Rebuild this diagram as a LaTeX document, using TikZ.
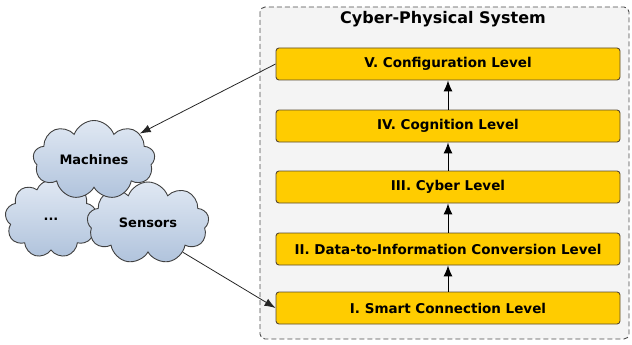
\documentclass[tikz,border=0pt]{standalone}
\usepackage{fontspec}
\setmainfont{DejaVu Sans}
\usetikzlibrary{shapes.symbols,arrows.meta}
\definecolor{lvlfill}{HTML}{FFCC00}
\definecolor{lvldraw}{HTML}{5A4A30}
\definecolor{sysfill}{HTML}{F4F4F4}
\definecolor{cloudtop}{HTML}{E0E8F3}
\definecolor{cloudbot}{HTML}{B0C3DC}
\tikzset{
  level/.style={draw=lvldraw, fill=lvlfill, rounded corners=3pt, line width=0.9pt,
    minimum width=344pt, minimum height=32pt, inner sep=0pt,
    font=\bfseries\fontsize{13.5}{15}\selectfont},
  cloudnode/.style={cloud, cloud puffs=9, cloud puff arc=140, cloud ignores aspect,
    draw=black!75, line width=0.9pt,
    top color=cloudtop, bottom color=cloudbot, inner sep=0pt,
    font=\bfseries\fontsize{13}{15}\selectfont},
  upar/.style={-{Latex[length=11pt,width=9pt]}, line width=1pt},
  linkar/.style={-{Latex[length=11pt,width=8pt]}, line width=0.8pt, draw=black!85},
}
\begin{document}
\begin{tikzpicture}[x=1pt,y=-1pt]
\useasboundingbox (0,0) rectangle (632,345);
\draw[dash pattern=on 5pt off 3pt, draw=black!70, fill=sysfill, rounded corners=5pt, line width=0.9pt] (260,7) rectangle (629,339);
\node[font=\bfseries\fontsize{16}{18}\selectfont] (title) at (443,19) {Cyber-Physical System};
\node[level] (l5) at (448,64) {V. Configuration Level};
\node[level] (l4) at (448,126) {IV. Cognition Level};
\node[level] (l3) at (448,187) {III. Cyber Level};
\node[level] (l2) at (448,249) {II. Data-to-Information Conversion Level};
\node[level] (l1) at (448,308) {I. Smart Connection Level};
\draw[upar] (l1) -- (l2);
\draw[upar] (l2) -- (l3);
\draw[upar] (l3) -- (l4);
\draw[upar] (l4) -- (l5);
\node[cloudnode, minimum width=92pt, minimum height=78pt] (dots) at (51,219) {...};
\node[cloudnode, minimum width=122pt, minimum height=82pt] (sens) at (148,223) {Sensors};
\node[cloudnode, minimum width=122pt, minimum height=79pt] (mach) at (94,160) {Machines};
\draw[linkar] (l5.west) -- (mach.30);
\draw[linkar] (sens.-40) -- (l1.west);
\end{tikzpicture}
\end{document}
